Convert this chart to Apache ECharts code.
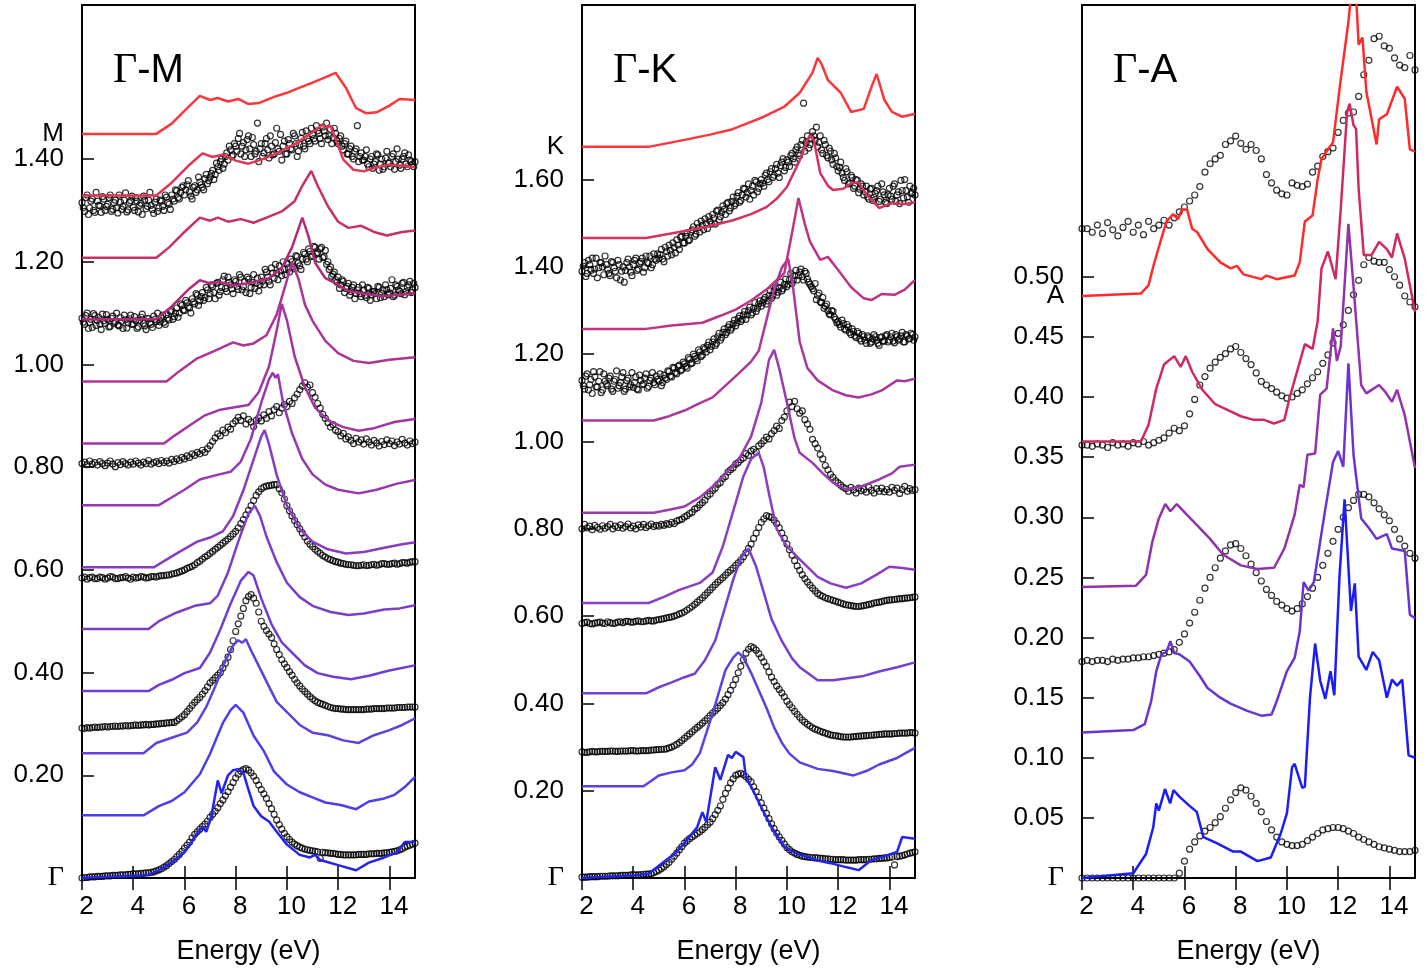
<!DOCTYPE html>
<html>
<head>
<meta charset="utf-8">
<title>Loss spectra along Γ-M, Γ-K, Γ-A</title>
<script src="https://cdn.jsdelivr.net/npm/echarts@6.0.0/dist/echarts.min.js"></script>
<style>
  html, body { margin: 0; padding: 0; background: #fff; }
  #main { width: 1428px; height: 974px; }
</style>
</head>
<body>
<div id="main"></div>
<script>
// ---------- sampling grids for the measured points (eV) ----------
var energy02 = [2, 2.2, 2.4, 2.6, 2.8, 3, 3.2, 3.4, 3.6, 3.8,
  4, 4.2, 4.4, 4.6, 4.8, 5, 5.2, 5.4, 5.6, 5.8,
  6, 6.2, 6.4, 6.6, 6.8, 7, 7.2, 7.4, 7.6, 7.8,
  8, 8.2, 8.4, 8.6, 8.8, 9, 9.2, 9.4, 9.6, 9.8,
  10, 10.2, 10.4, 10.6, 10.8, 11, 11.2, 11.4, 11.6, 11.8,
  12, 12.2, 12.4, 12.6, 12.8, 13, 13.2, 13.4, 13.6, 13.8,
  14, 14.2, 14.4, 14.6, 14.8, 15];

var energy01 = [2, 2.1, 2.2, 2.3, 2.4, 2.5, 2.6, 2.7, 2.8, 2.9,
  3, 3.1, 3.2, 3.3, 3.4, 3.5, 3.6, 3.7, 3.8, 3.9,
  4, 4.1, 4.2, 4.3, 4.4, 4.5, 4.6, 4.7, 4.8, 4.9,
  5, 5.1, 5.2, 5.3, 5.4, 5.5, 5.6, 5.7, 5.8, 5.9,
  6, 6.1, 6.2, 6.3, 6.4, 6.5, 6.6, 6.7, 6.8, 6.9,
  7, 7.1, 7.2, 7.3, 7.4, 7.5, 7.6, 7.7, 7.8, 7.9,
  8, 8.1, 8.2, 8.3, 8.4, 8.5, 8.6, 8.7, 8.8, 8.9,
  9, 9.1, 9.2, 9.3, 9.4, 9.5, 9.6, 9.7, 9.8, 9.9,
  10, 10.1, 10.2, 10.3, 10.4, 10.5, 10.6, 10.7, 10.8, 10.9,
  11, 11.1, 11.2, 11.3, 11.4, 11.5, 11.6, 11.7, 11.8, 11.9,
  12, 12.1, 12.2, 12.3, 12.4, 12.5, 12.6, 12.7, 12.8, 12.9,
  13, 13.1, 13.2, 13.3, 13.4, 13.5, 13.6, 13.7, 13.8, 13.9,
  14, 14.1, 14.2, 14.3, 14.4, 14.5, 14.6, 14.7, 14.8, 14.9,
  15];

// in-between energies of the noisy scans
var energy01h = [2.05, 2.15, 2.25, 2.35, 2.45, 2.55, 2.65, 2.75, 2.85, 2.95,
  3.05, 3.15, 3.25, 3.35, 3.45, 3.55, 3.65, 3.75, 3.85, 3.95,
  4.05, 4.15, 4.25, 4.35, 4.45, 4.55, 4.65, 4.75, 4.85, 4.95,
  5.05, 5.15, 5.25, 5.35, 5.45, 5.55, 5.65, 5.75, 5.85, 5.95,
  6.05, 6.15, 6.25, 6.35, 6.45, 6.55, 6.65, 6.75, 6.85, 6.95,
  7.05, 7.15, 7.25, 7.35, 7.45, 7.55, 7.65, 7.75, 7.85, 7.95,
  8.05, 8.15, 8.25, 8.35, 8.45, 8.55, 8.65, 8.75, 8.85, 8.95,
  9.05, 9.15, 9.25, 9.35, 9.45, 9.55, 9.65, 9.75, 9.85, 9.95,
  10.05, 10.15, 10.25, 10.35, 10.45, 10.55, 10.65, 10.75, 10.85, 10.95,
  11.05, 11.15, 11.25, 11.35, 11.45, 11.55, 11.65, 11.75, 11.85, 11.95,
  12.05, 12.15, 12.25, 12.35, 12.45, 12.55, 12.65, 12.75, 12.85, 12.95,
  13.05, 13.15, 13.25, 13.35, 13.45, 13.55, 13.65, 13.75, 13.85, 13.95,
  14.05, 14.15, 14.25, 14.35, 14.45, 14.55, 14.65, 14.75, 14.85, 14.95];

var xTicks = [2, 4, 6, 8, 10, 12, 14];

// ---------- Γ-M ----------
var gmOffsets = [0, 0.122, 0.243, 0.364, 0.485, 0.605, 0.726, 0.846, 0.967, 1.088, 1.208, 1.329, 1.449];
var gmColors = ['#2424f0', '#4c3ef0', '#6140dc', '#6e3fd2', '#7b3ec8', '#883cbe', '#9638b2',
  '#a235a4', '#ad3396', '#b32a78', '#c83068', '#e03656', '#f8383c'];
var gmTheory = [
  [[2,0],[3,0.002],[4,0.004],[4.6,0.006],[5,0.015],[5.5,0.03],[6,0.05],[6.4,0.08],[6.7,0.1],[6.85,0.09],[7.05,0.12],[7.3,0.19],[7.45,0.165],[7.7,0.2],[7.9,0.21],[8.1,0.212],[8.3,0.205],[8.45,0.18],[8.7,0.14],[9,0.12],[9.3,0.11],[9.6,0.09],[10,0.065],[10.5,0.045],[10.9,0.04],[11.1,0.045],[11.3,0.035],[12,0.025],[12.7,0.015],[13.2,0.03],[13.8,0.04],[14.3,0.05],[14.6,0.07],[15,0.07]],
  [[2,0],[4.4,0],[5,0.018],[5.5,0.028],[6,0.045],[6.6,0.08],[7,0.12],[7.25,0.15],[7.5,0.18],[7.8,0.205],[8,0.215],[8.3,0.2],[8.7,0.155],[9.1,0.125],[9.5,0.085],[10,0.06],[10.5,0.045],[11,0.035],[11.5,0.025],[12.1,0.02],[12.7,0.012],[13.2,0.027],[13.8,0.033],[14.2,0.04],[14.6,0.055],[15,0.075]],
  [[2,0],[4.4,0],[4.9,0.02],[5.5,0.03],[6.1,0.04],[6.5,0.06],[6.85,0.09],[7.2,0.13],[7.6,0.18],[7.9,0.21],[8.1,0.22],[8.25,0.215],[8.4,0.222],[8.6,0.2],[8.9,0.17],[9.2,0.14],[9.6,0.1],[10,0.08],[10.5,0.055],[11,0.04],[11.6,0.035],[12.2,0.025],[12.8,0.02],[13.4,0.035],[14,0.045],[14.5,0.055],[15,0.068]],
  [[2,0],[4.6,0],[5,0.012],[5.5,0.022],[6,0.035],[6.6,0.045],[7,0.075],[7.4,0.12],[7.8,0.17],[8.2,0.215],[8.5,0.232],[8.7,0.225],[9,0.18],[9.4,0.13],[9.8,0.095],[10.2,0.075],[10.7,0.05],[11.2,0.035],[11.8,0.028],[12.5,0.023],[13.2,0.03],[14,0.04],[15,0.05]],
  [[2,0],[4.6,0],[5,0.015],[5.6,0.03],[6.4,0.045],[7,0.05],[7.3,0.065],[7.7,0.11],[8.1,0.17],[8.5,0.225],[8.75,0.24],[8.95,0.22],[9.2,0.18],[9.6,0.13],[10,0.09],[10.5,0.062],[11,0.045],[11.7,0.033],[12.4,0.027],[13,0.03],[13.8,0.038],[14.4,0.04],[15,0.046]],
  [[2,0],[4.8,0],[5.2,0.012],[5.8,0.03],[6.5,0.05],[7,0.058],[7.5,0.07],[7.9,0.1],[8.3,0.15],[8.7,0.21],[9,0.255],[9.13,0.267],[9.3,0.24],[9.6,0.18],[10,0.12],[10.5,0.075],[11,0.05],[11.6,0.035],[12.3,0.027],[13,0.03],[13.8,0.038],[14.5,0.045],[15,0.049]],
  [[2,0],[5,0],[5.4,0.012],[6,0.03],[6.6,0.05],[7.2,0.058],[7.8,0.065],[8.2,0.085],[8.6,0.13],[9,0.2],[9.3,0.245],[9.45,0.258],[9.55,0.248],[9.65,0.255],[9.85,0.2],[10.2,0.14],[10.6,0.09],[11,0.06],[11.5,0.04],[12,0.03],[12.8,0.023],[13.5,0.03],[14.3,0.042],[15,0.049]],
  [[2,0],[5.2,0],[5.6,0.015],[6.2,0.035],[6.8,0.055],[7.4,0.066],[7.9,0.07],[8.5,0.075],[8.9,0.1],[9.3,0.15],[9.6,0.22],[9.8,0.272],[10,0.24],[10.3,0.17],[10.7,0.11],[11.1,0.07],[11.6,0.045],[12.2,0.032],[12.8,0.025],[13.4,0.03],[14.2,0.042],[15,0.048]],
  [[2,0],[5.3,0],[5.8,0.02],[6.5,0.045],[7.2,0.06],[7.9,0.076],[8.3,0.07],[8.7,0.074],[9.2,0.09],[9.6,0.13],[9.9,0.18],[10.2,0.232],[10.45,0.2],[10.7,0.15],[11,0.118],[11.5,0.079],[12,0.055],[12.6,0.04],[13.2,0.036],[14,0.042],[15,0.047]],
  [[2,0],[4.9,0],[5.5,0.025],[6.2,0.06],[6.6,0.076],[7,0.07],[7.4,0.072],[7.9,0.066],[8.5,0.07],[9.3,0.08],[9.8,0.1],[10.2,0.14],[10.6,0.198],[10.85,0.16],[11.1,0.11],[11.5,0.08],[11.9,0.07],[12.4,0.055],[13,0.05],[13.7,0.045],[14.4,0.048],[15,0.05]],
  [[2,0],[4.9,0],[5.4,0.02],[6,0.05],[6.6,0.078],[7,0.072],[7.3,0.078],[7.7,0.07],[8.2,0.075],[8.7,0.068],[9.3,0.08],[9.8,0.09],[10.3,0.11],[10.6,0.14],[10.95,0.169],[11.2,0.14],[11.6,0.1],[12,0.07],[12.4,0.058],[12.9,0.062],[13.4,0.05],[13.9,0.043],[14.5,0.05],[15,0.053]],
  [[2,0],[4.9,0],[5.5,0.025],[6.2,0.06],[6.7,0.082],[7.1,0.075],[7.5,0.08],[8,0.068],[8.5,0.062],[9,0.07],[9.6,0.082],[10.3,0.1],[10.9,0.12],[11.4,0.138],[11.55,0.132],[11.7,0.136],[11.9,0.11],[12.2,0.07],[12.6,0.05],[13,0.047],[13.5,0.055],[14,0.06],[14.5,0.058],[15,0.055]],
  [[2,0],[4.9,0],[5.5,0.02],[6,0.045],[6.6,0.074],[7,0.066],[7.3,0.07],[7.7,0.063],[8.1,0.068],[8.5,0.058],[8.9,0.06],[9.5,0.072],[10,0.08],[10.5,0.09],[11,0.1],[11.4,0.108],[11.9,0.119],[12.3,0.09],[12.7,0.05],[13.1,0.04],[13.5,0.042],[14,0.055],[14.4,0.068],[15,0.066]]
];
var gmExp0 = [0, 0.001, 0.001, 0.002, 0.002, 0.002, 0.003, 0.003, 0.003, 0.004,
  0.004, 0.004, 0.005, 0.005, 0.005, 0.006, 0.006, 0.006, 0.007, 0.007,
  0.008, 0.008, 0.008, 0.009, 0.009, 0.01, 0.01, 0.011, 0.012, 0.014,
  0.016, 0.018, 0.021, 0.024, 0.028, 0.032, 0.036, 0.041, 0.046, 0.052,
  0.058, 0.064, 0.07, 0.078, 0.085, 0.09, 0.095, 0.1, 0.105, 0.111,
  0.118, 0.124, 0.13, 0.137, 0.145, 0.152, 0.16, 0.168, 0.177, 0.186,
  0.195, 0.202, 0.208, 0.211, 0.213, 0.21, 0.205, 0.198, 0.19, 0.181,
  0.172, 0.164, 0.155, 0.145, 0.135, 0.124, 0.113, 0.104, 0.095, 0.087,
  0.08, 0.075, 0.07, 0.066, 0.063, 0.06, 0.058, 0.056, 0.055, 0.054,
  0.053, 0.052, 0.051, 0.038, 0.05, 0.049, 0.049, 0.048, 0.048, 0.047,
  0.046, 0.046, 0.045, 0.045, 0.045, 0.045, 0.045, 0.045, 0.046, 0.046,
  0.046, 0.046, 0.047, 0.047, 0.047, 0.048, 0.048, 0.048, 0.049, 0.049,
  0.05, 0.051, 0.052, 0.053, 0.055, 0.057, 0.06, 0.062, 0.064, 0.066,
  0.068];
var gmExp1 = [0.292, 0.291, 0.293, 0.292, 0.293, 0.294, 0.293, 0.294, 0.294, 0.295,
  0.294, 0.295, 0.295, 0.296, 0.295, 0.296, 0.296, 0.297, 0.296, 0.297,
  0.297, 0.298, 0.297, 0.298, 0.298, 0.299, 0.298, 0.299, 0.299, 0.3,
  0.3, 0.301, 0.301, 0.302, 0.302, 0.303, 0.303, 0.306, 0.31, 0.314,
  0.318, 0.324, 0.33, 0.336, 0.342, 0.347, 0.352, 0.358, 0.365, 0.372,
  0.38, 0.385, 0.39, 0.395, 0.4, 0.409, 0.418, 0.43, 0.445, 0.462,
  0.48, 0.495, 0.51, 0.525, 0.54, 0.548, 0.552, 0.545, 0.535, 0.518,
  0.5, 0.49, 0.482, 0.475, 0.468, 0.456, 0.445, 0.435, 0.425, 0.417,
  0.41, 0.402, 0.395, 0.387, 0.38, 0.374, 0.368, 0.363, 0.358, 0.353,
  0.349, 0.345, 0.342, 0.34, 0.338, 0.336, 0.334, 0.332, 0.331, 0.33,
  0.33, 0.329, 0.329, 0.328, 0.328, 0.328, 0.328, 0.328, 0.328, 0.328,
  0.328, 0.329, 0.329, 0.329, 0.33, 0.33, 0.33, 0.33, 0.33, 0.331,
  0.331, 0.331, 0.331, 0.332, 0.332, 0.332, 0.332, 0.333, 0.333, 0.333,
  0.333];
var gmExp2 = [0.584, 0.586, 0.582, 0.585, 0.586, 0.583, 0.583, 0.586, 0.585, 0.582,
  0.584, 0.587, 0.586, 0.583, 0.583, 0.585, 0.585, 0.587, 0.584, 0.582,
  0.586, 0.584, 0.585, 0.587, 0.586, 0.584, 0.585, 0.587, 0.587, 0.586,
  0.588, 0.589, 0.589, 0.59, 0.59, 0.592, 0.593, 0.594, 0.596, 0.598,
  0.6, 0.603, 0.605, 0.607, 0.61, 0.614, 0.617, 0.621, 0.625, 0.628,
  0.632, 0.636, 0.64, 0.644, 0.648, 0.652, 0.656, 0.66, 0.665, 0.67,
  0.675, 0.682, 0.69, 0.698, 0.707, 0.716, 0.725, 0.735, 0.745, 0.752,
  0.758, 0.761, 0.763, 0.764, 0.765, 0.766, 0.766, 0.758, 0.75, 0.738,
  0.725, 0.715, 0.705, 0.696, 0.688, 0.68, 0.672, 0.664, 0.656, 0.65,
  0.645, 0.64, 0.636, 0.632, 0.628, 0.625, 0.622, 0.62, 0.618, 0.616,
  0.615, 0.613, 0.612, 0.611, 0.61, 0.61, 0.609, 0.608, 0.608, 0.609,
  0.61, 0.608, 0.609, 0.61, 0.611, 0.609, 0.61, 0.612, 0.612, 0.611,
  0.611, 0.612, 0.613, 0.611, 0.612, 0.614, 0.614, 0.613, 0.615, 0.616,
  0.616];
var gmExp3 = [0.807, 0.81, 0.805, 0.812, 0.806, 0.809, 0.804, 0.811, 0.807, 0.803,
  0.808, 0.812, 0.806, 0.801, 0.809, 0.805, 0.811, 0.807, 0.804, 0.81,
  0.806, 0.812, 0.808, 0.804, 0.81, 0.807, 0.813, 0.806, 0.809, 0.811,
  0.807, 0.813, 0.809, 0.812, 0.808, 0.815, 0.811, 0.816, 0.813, 0.819,
  0.816, 0.822, 0.819, 0.826, 0.823, 0.829, 0.826, 0.833, 0.829, 0.836,
  0.842, 0.85, 0.857, 0.865, 0.861, 0.872, 0.867, 0.878, 0.874, 0.885,
  0.89, 0.897, 0.891, 0.9, 0.884, 0.893, 0.888, 0.879, 0.891, 0.896,
  0.89, 0.902, 0.895, 0.908, 0.9, 0.912, 0.918, 0.906, 0.915, 0.922,
  0.918, 0.928, 0.924, 0.935, 0.942, 0.951, 0.958, 0.964, 0.956, 0.96,
  0.945, 0.936, 0.924, 0.915, 0.903, 0.895, 0.887, 0.878, 0.883, 0.872,
  0.869, 0.861, 0.866, 0.855, 0.859, 0.852, 0.846, 0.856, 0.849, 0.853,
  0.845, 0.855, 0.849, 0.843, 0.852, 0.847, 0.841, 0.85, 0.844, 0.853,
  0.846, 0.851, 0.842, 0.849, 0.845, 0.854, 0.847, 0.843, 0.851, 0.846,
  0.849];
var gmExp4 = [1.09, 1.078, 1.1, 1.082, 1.072, 1.095, 1.086, 1.079, 1.098, 1.08,
  1.088, 1.074, 1.094, 1.083, 1.077, 1.091, 1.07, 1.087, 1.081, 1.096,
  1.079, 1.085, 1.073, 1.092, 1.08, 1.068, 1.089, 1.078, 1.094, 1.083,
  1.076, 1.09, 1.082, 1.097, 1.087, 1.105, 1.093, 1.11, 1.1, 1.115,
  1.105, 1.12, 1.11, 1.128, 1.118, 1.135, 1.124, 1.14, 1.13, 1.145,
  1.138, 1.152, 1.128, 1.16, 1.142, 1.165, 1.148, 1.17, 1.155, 1.138,
  1.162, 1.146, 1.17, 1.152, 1.14, 1.166, 1.15, 1.175, 1.158, 1.143,
  1.17, 1.155, 1.18, 1.162, 1.188, 1.168, 1.178, 1.192, 1.173, 1.185,
  1.196, 1.18, 1.2, 1.186, 1.21, 1.192, 1.205, 1.215, 1.2, 1.22,
  1.212, 1.228, 1.218, 1.225, 1.208, 1.222, 1.2, 1.19, 1.176, 1.165,
  1.17, 1.155, 1.162, 1.148, 1.158, 1.142, 1.155, 1.138, 1.15, 1.132,
  1.145, 1.13, 1.148, 1.136, 1.142, 1.128, 1.15, 1.138, 1.132, 1.146,
  1.14, 1.165, 1.135, 1.152, 1.143, 1.158, 1.136, 1.15, 1.162, 1.145,
  1.15];
var gmExp4h = [1.082, 1.095, 1.07, 1.088, 1.099, 1.076, 1.092, 1.068, 1.085, 1.097,
  1.073, 1.09, 1.08, 1.1, 1.075, 1.084, 1.096, 1.071, 1.089, 1.078,
  1.093, 1.07, 1.086, 1.098, 1.075, 1.09, 1.081, 1.072, 1.088, 1.1,
  1.083, 1.096, 1.078, 1.09, 1.103, 1.088, 1.1, 1.092, 1.118, 1.106,
  1.125, 1.112, 1.1, 1.122, 1.138, 1.115, 1.132, 1.125, 1.15, 1.128,
  1.155, 1.14, 1.158, 1.135, 1.15, 1.172, 1.142, 1.16, 1.147, 1.165,
  1.152, 1.175, 1.145, 1.162, 1.17, 1.138, 1.16, 1.148, 1.168, 1.155,
  1.162, 1.185, 1.17, 1.155, 1.178, 1.195, 1.165, 1.182, 1.2, 1.175,
  1.188, 1.205, 1.19, 1.212, 1.198, 1.185, 1.218, 1.205, 1.225, 1.21,
  1.23, 1.215, 1.205, 1.228, 1.21, 1.195, 1.185, 1.172, 1.18, 1.16,
  1.148, 1.165, 1.14, 1.152, 1.135, 1.15, 1.128, 1.145, 1.138, 1.155,
  1.135, 1.15, 1.125, 1.142, 1.138, 1.152, 1.13, 1.145, 1.155, 1.136,
  1.148, 1.132, 1.155, 1.145, 1.138, 1.16, 1.142, 1.155, 1.14, 1.158];
var gmExp5 = [1.315, 1.298, 1.33, 1.305, 1.322, 1.296, 1.318, 1.309, 1.327, 1.3,
  1.312, 1.33, 1.302, 1.32, 1.295, 1.316, 1.308, 1.334, 1.301, 1.319,
  1.306, 1.325, 1.297, 1.314, 1.328, 1.303, 1.32, 1.31, 1.294, 1.322,
  1.305, 1.318, 1.3, 1.326, 1.312, 1.33, 1.318, 1.338, 1.322, 1.345,
  1.33, 1.35, 1.336, 1.322, 1.348, 1.34, 1.355, 1.345, 1.362, 1.352,
  1.365, 1.378, 1.37, 1.385, 1.395, 1.382, 1.405, 1.398, 1.418, 1.408,
  1.425, 1.44, 1.41, 1.432, 1.418, 1.445, 1.405, 1.428, 1.415, 1.395,
  1.43, 1.412, 1.44, 1.402, 1.425, 1.41, 1.46, 1.415, 1.398, 1.435,
  1.41, 1.43, 1.418, 1.445, 1.405, 1.428, 1.452, 1.42, 1.44, 1.43,
  1.448, 1.435, 1.455, 1.44, 1.462, 1.445, 1.438, 1.458, 1.442, 1.45,
  1.43, 1.445, 1.418, 1.435, 1.41, 1.425, 1.4, 1.42, 1.395, 1.412,
  1.398, 1.418, 1.385, 1.405, 1.39, 1.41, 1.378, 1.4, 1.385, 1.415,
  1.392, 1.405, 1.38, 1.42, 1.388, 1.4, 1.412, 1.385, 1.398, 1.39,
  1.395];
var gmExp5h = [1.305, 1.325, 1.292, 1.318, 1.3, 1.335, 1.31, 1.296, 1.322, 1.308,
  1.325, 1.298, 1.315, 1.305, 1.33, 1.302, 1.32, 1.297, 1.315, 1.328,
  1.3, 1.318, 1.31, 1.292, 1.32, 1.308, 1.335, 1.302, 1.316, 1.298,
  1.32, 1.308, 1.33, 1.315, 1.302, 1.322, 1.34, 1.325, 1.335, 1.348,
  1.34, 1.358, 1.328, 1.345, 1.335, 1.365, 1.35, 1.34, 1.37, 1.358,
  1.372, 1.36, 1.392, 1.378, 1.4, 1.39, 1.412, 1.425, 1.405, 1.43,
  1.415, 1.45, 1.425, 1.405, 1.438, 1.42, 1.442, 1.41, 1.47, 1.42,
  1.405, 1.43, 1.418, 1.445, 1.408, 1.432, 1.42, 1.448, 1.425, 1.41,
  1.438, 1.42, 1.45, 1.43, 1.415, 1.44, 1.425, 1.455, 1.435, 1.46,
  1.44, 1.465, 1.45, 1.43, 1.455, 1.47, 1.445, 1.43, 1.46, 1.435,
  1.44, 1.425, 1.43, 1.41, 1.42, 1.405, 1.415, 1.465, 1.405, 1.398,
  1.405, 1.39, 1.4, 1.382, 1.395, 1.408, 1.39, 1.38, 1.402, 1.392,
  1.385, 1.41, 1.395, 1.4, 1.382, 1.405, 1.39, 1.408, 1.395, 1.385];

// ---------- Γ-K ----------
var gkOffsets = [0, 0.21, 0.423, 0.63, 0.837, 1.048, 1.258, 1.466, 1.675];
var gkColors = ['#2424f0', '#5c40e0', '#7440d2', '#8a3ec4', '#9a3bb0', '#aa389a', '#bc3482', '#d63260', '#f8383c'];
var gkTheory = [
  [[2,0],[3,0.003],[4,0.006],[4.6,0.01],[5.2,0.037],[5.6,0.055],[6,0.08],[6.5,0.117],[6.7,0.151],[6.85,0.128],[7.05,0.2],[7.2,0.254],[7.4,0.225],[7.7,0.282],[7.85,0.275],[8,0.289],[8.3,0.277],[8.4,0.231],[8.6,0.21],[8.8,0.186],[9.1,0.15],[9.4,0.117],[9.9,0.071],[10.4,0.055],[10.8,0.048],[11.2,0.04],[11.7,0.034],[12.3,0.025],[12.8,0.018],[13.3,0.041],[13.8,0.05],[14.3,0.06],[14.5,0.094],[15,0.09]],
  [[2,0],[4.4,0],[5,0.025],[5.5,0.032],[6,0.037],[6.3,0.05],[6.6,0.076],[7.1,0.167],[7.6,0.266],[7.9,0.295],[8.1,0.307],[8.3,0.295],[8.6,0.26],[8.9,0.22],[9.2,0.18],[9.5,0.135],[9.8,0.1],[10.1,0.075],[10.5,0.055],[11.2,0.04],[11.8,0.035],[12.6,0.025],[13.1,0.035],[13.6,0.05],[14.3,0.065],[15,0.088]],
  [[2,0],[4.5,0],[5,0.014],[5.5,0.025],[6,0.037],[6.4,0.045],[6.8,0.076],[7.2,0.121],[7.6,0.2],[7.9,0.26],[8.2,0.31],[8.5,0.332],[8.8,0.29],[9.1,0.23],[9.4,0.17],[9.8,0.12],[10.2,0.08],[10.5,0.06],[11.2,0.03],[11.8,0.03],[12.3,0.034],[13,0.04],[13.6,0.05],[14.3,0.06],[15,0.071]],
  [[2,0],[4.6,0],[5.2,0.014],[5.8,0.03],[6.6,0.046],[7.1,0.07],[7.5,0.13],[7.8,0.19],[8.3,0.29],[8.6,0.33],[8.9,0.344],[9.1,0.31],[9.3,0.25],[9.6,0.17],[10,0.13],[10.5,0.1],[11.2,0.06],[11.7,0.045],[12.3,0.035],[12.9,0.045],[13.5,0.065],[14,0.083],[14.5,0.08],[15,0.076]],
  [[2,0],[4.8,0],[5.5,0.008],[6,0.014],[6.6,0.035],[7.1,0.06],[7.6,0.09],[8.1,0.12],[8.6,0.174],[9,0.252],[9.3,0.35],[9.5,0.373],[9.7,0.33],[10,0.252],[10.3,0.17],[10.5,0.137],[11,0.114],[11.4,0.09],[11.8,0.069],[12.3,0.053],[12.9,0.06],[13.6,0.076],[14.1,0.09],[14.4,0.105],[15,0.11]],
  [[2,0],[4.8,0],[5.4,0.01],[6,0.023],[6.6,0.04],[7.1,0.053],[7.6,0.08],[8.1,0.107],[8.6,0.135],[8.9,0.16],[9.2,0.23],[9.5,0.3],[9.8,0.35],[10.05,0.371],[10.25,0.3],[10.5,0.18],[10.8,0.12],[11.2,0.092],[11.8,0.069],[12.3,0.058],[12.8,0.053],[13.3,0.06],[13.7,0.069],[14.3,0.092],[14.6,0.09],[15,0.096]],
  [[2,0],[4.5,0],[5.5,0.008],[6.7,0.014],[7.4,0.03],[8,0.044],[8.6,0.065],[9.2,0.09],[9.9,0.128],[10.2,0.22],[10.45,0.3],[10.7,0.24],[10.9,0.2],[11.3,0.158],[11.6,0.165],[12,0.135],[12.5,0.096],[13,0.07],[13.3,0.066],[13.7,0.08],[14.2,0.078],[14.6,0.09],[15,0.112]],
  [[2,0],[4.5,0],[5.8,0.014],[6.8,0.025],[7.9,0.041],[8.6,0.055],[9.2,0.071],[9.6,0.09],[10,0.117],[10.5,0.178],[10.8,0.225],[10.9,0.236],[11.05,0.225],[11.3,0.149],[11.6,0.12],[11.8,0.11],[12.2,0.113],[12.5,0.125],[12.8,0.128],[13.1,0.1],[13.6,0.069],[14.1,0.08],[14.6,0.078],[15,0.082]],
  [[2,0],[4.6,0],[6,0.016],[7,0.028],[7.8,0.039],[8.5,0.055],[9.1,0.069],[9.9,0.092],[10.5,0.124],[11,0.17],[11.2,0.204],[11.35,0.19],[11.6,0.153],[12.1,0.124],[12.5,0.08],[13,0.087],[13.3,0.137],[13.5,0.167],[13.8,0.108],[14.1,0.08],[14.5,0.069],[15,0.076]]
];
var gkExp0 = [0.002, 0.002, 0.002, 0.003, 0.003, 0.003, 0.003, 0.004, 0.004, 0.004,
  0.004, 0.005, 0.005, 0.005, 0.005, 0.006, 0.006, 0.006, 0.006, 0.007,
  0.007, 0.007, 0.007, 0.008, 0.008, 0.009, 0.009, 0.01, 0.012, 0.015,
  0.018, 0.022, 0.026, 0.031, 0.036, 0.043, 0.05, 0.057, 0.065, 0.072,
  0.08, 0.085, 0.09, 0.094, 0.098, 0.102, 0.106, 0.111, 0.116, 0.122,
  0.128, 0.136, 0.145, 0.155, 0.165, 0.18, 0.194, 0.206, 0.218, 0.227,
  0.235, 0.238, 0.24, 0.237, 0.232, 0.226, 0.22, 0.209, 0.198, 0.185,
  0.172, 0.16, 0.148, 0.136, 0.124, 0.113, 0.103, 0.094, 0.086, 0.078,
  0.07, 0.065, 0.06, 0.057, 0.054, 0.052, 0.05, 0.049, 0.048, 0.047,
  0.047, 0.046, 0.046, 0.045, 0.045, 0.044, 0.044, 0.043, 0.043, 0.042,
  0.042, 0.042, 0.042, 0.041, 0.041, 0.041, 0.041, 0.041, 0.042, 0.042,
  0.042, 0.042, 0.043, 0.043, 0.044, 0.044, 0.045, 0.045, 0.046, 0.046,
  0.047, 0.048, 0.03, 0.049, 0.05, 0.051, 0.053, 0.055, 0.057, 0.058,
  0.06];
var gkExp1 = [0.289, 0.288, 0.288, 0.289, 0.29, 0.289, 0.289, 0.29, 0.29, 0.29,
  0.29, 0.291, 0.291, 0.29, 0.29, 0.291, 0.291, 0.291, 0.291, 0.292,
  0.292, 0.291, 0.291, 0.292, 0.292, 0.292, 0.292, 0.293, 0.293, 0.294,
  0.294, 0.295, 0.295, 0.296, 0.298, 0.3, 0.303, 0.306, 0.31, 0.315,
  0.32, 0.325, 0.33, 0.335, 0.34, 0.345, 0.35, 0.355, 0.36, 0.366,
  0.372, 0.378, 0.383, 0.389, 0.395, 0.402, 0.41, 0.42, 0.43, 0.442,
  0.455, 0.47, 0.485, 0.5, 0.515, 0.524, 0.53, 0.527, 0.522, 0.514,
  0.505, 0.495, 0.485, 0.472, 0.46, 0.45, 0.44, 0.432, 0.424, 0.415,
  0.405, 0.397, 0.39, 0.382, 0.375, 0.368, 0.362, 0.357, 0.352, 0.348,
  0.344, 0.341, 0.339, 0.336, 0.334, 0.332, 0.33, 0.328, 0.327, 0.326,
  0.325, 0.324, 0.323, 0.323, 0.323, 0.323, 0.324, 0.324, 0.325, 0.325,
  0.326, 0.326, 0.327, 0.327, 0.328, 0.328, 0.329, 0.329, 0.33, 0.33,
  0.33, 0.33, 0.331, 0.331, 0.332, 0.332, 0.332, 0.332, 0.333, 0.333,
  0.332];
var gkExp2 = [0.583, 0.585, 0.586, 0.583, 0.582, 0.584, 0.585, 0.586, 0.584, 0.583,
  0.587, 0.585, 0.583, 0.584, 0.586, 0.587, 0.585, 0.588, 0.588, 0.586,
  0.586, 0.588, 0.589, 0.587, 0.587, 0.589, 0.59, 0.589, 0.589, 0.591,
  0.592, 0.593, 0.594, 0.596, 0.597, 0.598, 0.6, 0.602, 0.605, 0.607,
  0.61, 0.614, 0.618, 0.622, 0.627, 0.632, 0.637, 0.642, 0.648, 0.654,
  0.66, 0.666, 0.672, 0.678, 0.683, 0.688, 0.694, 0.7, 0.705, 0.71,
  0.716, 0.722, 0.728, 0.736, 0.745, 0.755, 0.765, 0.778, 0.79, 0.803,
  0.815, 0.823, 0.83, 0.828, 0.826, 0.82, 0.812, 0.802, 0.79, 0.778,
  0.765, 0.752, 0.74, 0.727, 0.715, 0.705, 0.695, 0.686, 0.678, 0.671,
  0.664, 0.658, 0.652, 0.648, 0.645, 0.642, 0.64, 0.638, 0.636, 0.634,
  0.632, 0.63, 0.628, 0.626, 0.625, 0.624, 0.623, 0.622, 0.622, 0.623,
  0.624, 0.625, 0.627, 0.628, 0.63, 0.631, 0.632, 0.633, 0.635, 0.636,
  0.637, 0.637, 0.638, 0.639, 0.64, 0.64, 0.641, 0.641, 0.642, 0.643,
  0.644];
var gkExp3 = [0.8, 0.81, 0.802, 0.806, 0.798, 0.808, 0.803, 0.799, 0.807, 0.801,
  0.805, 0.81, 0.8, 0.806, 0.803, 0.809, 0.801, 0.805, 0.811, 0.802,
  0.806, 0.8, 0.809, 0.804, 0.81, 0.803, 0.807, 0.811, 0.805, 0.808,
  0.806, 0.81, 0.808, 0.812, 0.81, 0.815, 0.812, 0.818, 0.82, 0.822,
  0.827, 0.83, 0.835, 0.838, 0.845, 0.848, 0.855, 0.86, 0.866, 0.875,
  0.88, 0.888, 0.893, 0.902, 0.906, 0.915, 0.92, 0.93, 0.935, 0.94,
  0.948, 0.952, 0.958, 0.962, 0.972, 0.968, 0.978, 0.982, 0.976, 0.99,
  0.995, 1.002, 1.01, 1.006, 1.018, 1.025, 1.035, 1.03, 1.048, 1.056,
  1.07, 1.09, 1.08, 1.092, 1.075, 1.065, 1.07, 1.05, 1.04, 1.028,
  1.005, 0.995, 0.985, 0.97, 0.96, 0.945, 0.935, 0.925, 0.918, 0.91,
  0.905, 0.9, 0.895, 0.892, 0.886, 0.895, 0.889, 0.882, 0.893, 0.887,
  0.89, 0.884, 0.895, 0.888, 0.882, 0.892, 0.886, 0.893, 0.885, 0.89,
  0.884, 0.895, 0.888, 0.893, 0.881, 0.89, 0.897, 0.886, 0.892, 0.888,
  0.89];
var gkExp4 = [1.14, 1.12, 1.155, 1.13, 1.11, 1.148, 1.125, 1.16, 1.118, 1.138,
  1.128, 1.15, 1.115, 1.142, 1.122, 1.135, 1.158, 1.12, 1.145, 1.13,
  1.124, 1.148, 1.118, 1.14, 1.132, 1.155, 1.126, 1.145, 1.135, 1.15,
  1.138, 1.128, 1.152, 1.142, 1.16, 1.148, 1.168, 1.155, 1.175, 1.165,
  1.178, 1.168, 1.188, 1.18, 1.195, 1.185, 1.205, 1.198, 1.212, 1.22,
  1.21, 1.228, 1.22, 1.24, 1.232, 1.25, 1.245, 1.262, 1.255, 1.27,
  1.265, 1.282, 1.275, 1.29, 1.28, 1.3, 1.29, 1.305, 1.298, 1.315,
  1.31, 1.325, 1.315, 1.335, 1.328, 1.345, 1.335, 1.352, 1.345, 1.36,
  1.355, 1.37, 1.362, 1.38, 1.37, 1.388, 1.378, 1.39, 1.372, 1.36,
  1.35, 1.362, 1.335, 1.32, 1.33, 1.31, 1.3, 1.29, 1.298, 1.28,
  1.275, 1.262, 1.27, 1.255, 1.262, 1.245, 1.252, 1.238, 1.248, 1.23,
  1.24, 1.225, 1.238, 1.228, 1.245, 1.232, 1.22, 1.24, 1.23, 1.245,
  1.232, 1.248, 1.226, 1.24, 1.235, 1.25, 1.228, 1.242, 1.236, 1.245,
  1.24];
var gkExp4h = [1.128, 1.15, 1.118, 1.142, 1.16, 1.125, 1.138, 1.112, 1.155, 1.132,
  1.145, 1.12, 1.138, 1.162, 1.128, 1.148, 1.115, 1.14, 1.125, 1.158,
  1.135, 1.12, 1.152, 1.13, 1.145, 1.122, 1.14, 1.158, 1.13, 1.142,
  1.155, 1.135, 1.145, 1.162, 1.15, 1.17, 1.158, 1.172, 1.162, 1.182,
  1.172, 1.192, 1.178, 1.2, 1.19, 1.21, 1.195, 1.215, 1.205, 1.228,
  1.218, 1.235, 1.225, 1.248, 1.238, 1.258, 1.25, 1.268, 1.26, 1.278,
  1.272, 1.288, 1.28, 1.298, 1.29, 1.308, 1.295, 1.318, 1.305, 1.322,
  1.318, 1.33, 1.322, 1.345, 1.335, 1.352, 1.342, 1.365, 1.35, 1.372,
  1.36, 1.385, 1.37, 1.392, 1.38, 1.395, 1.37, 1.385, 1.365, 1.355,
  1.345, 1.325, 1.34, 1.318, 1.305, 1.315, 1.292, 1.3, 1.285, 1.272,
  1.268, 1.278, 1.258, 1.268, 1.25, 1.258, 1.242, 1.252, 1.235, 1.245,
  1.232, 1.242, 1.225, 1.235, 1.24, 1.225, 1.238, 1.23, 1.242, 1.228,
  1.24, 1.23, 1.245, 1.232, 1.242, 1.228, 1.245, 1.235, 1.248, 1.232];
var gkExp5 = [1.39, 1.41, 1.385, 1.405, 1.42, 1.395, 1.375, 1.41, 1.4, 1.425,
  1.395, 1.38, 1.41, 1.39, 1.415, 1.37, 1.4, 1.392, 1.418, 1.388,
  1.405, 1.42, 1.395, 1.412, 1.388, 1.425, 1.408, 1.398, 1.43, 1.415,
  1.42, 1.44, 1.412, 1.435, 1.45, 1.428, 1.445, 1.462, 1.44, 1.47,
  1.455, 1.478, 1.462, 1.485, 1.47, 1.5, 1.48, 1.495, 1.51, 1.488,
  1.505, 1.52, 1.498, 1.53, 1.515, 1.54, 1.52, 1.548, 1.535, 1.56,
  1.545, 1.57, 1.552, 1.58, 1.56, 1.59, 1.575, 1.565, 1.595, 1.58,
  1.6, 1.585, 1.615, 1.595, 1.625, 1.61, 1.635, 1.605, 1.64, 1.62,
  1.645, 1.63, 1.66, 1.64, 1.675, 1.655, 1.69, 1.665, 1.7, 1.68,
  1.71, 1.69, 1.675, 1.7, 1.66, 1.68, 1.65, 1.665, 1.635, 1.65,
  1.62, 1.64, 1.605, 1.625, 1.59, 1.61, 1.58, 1.6, 1.57, 1.59,
  1.565, 1.585, 1.555, 1.58, 1.56, 1.575, 1.55, 1.59, 1.565, 1.545,
  1.58, 1.555, 1.59, 1.565, 1.545, 1.575, 1.6, 1.56, 1.585, 1.57,
  1.565];
var gkExp5h = [1.402, 1.378, 1.415, 1.392, 1.385, 1.42, 1.398, 1.41, 1.382, 1.405,
  1.385, 1.412, 1.398, 1.375, 1.405, 1.39, 1.365, 1.41, 1.4, 1.38,
  1.415, 1.392, 1.408, 1.42, 1.398, 1.41, 1.425, 1.405, 1.418, 1.43,
  1.428, 1.418, 1.445, 1.425, 1.438, 1.455, 1.432, 1.45, 1.468, 1.455,
  1.47, 1.46, 1.48, 1.492, 1.475, 1.49, 1.505, 1.485, 1.5, 1.515,
  1.498, 1.512, 1.528, 1.508, 1.525, 1.532, 1.545, 1.528, 1.55, 1.54,
  1.562, 1.548, 1.565, 1.578, 1.57, 1.555, 1.585, 1.598, 1.572, 1.59,
  1.592, 1.61, 1.6, 1.618, 1.605, 1.625, 1.615, 1.632, 1.648, 1.628,
  1.64, 1.655, 1.648, 1.668, 1.66, 1.68, 1.775, 1.685, 1.672, 1.695,
  1.7, 1.72, 1.685, 1.668, 1.69, 1.655, 1.672, 1.645, 1.66, 1.63,
  1.628, 1.615, 1.598, 1.618, 1.592, 1.605, 1.585, 1.598, 1.578, 1.585,
  1.572, 1.56, 1.578, 1.552, 1.568, 1.585, 1.555, 1.572, 1.548, 1.565,
  1.562, 1.585, 1.55, 1.572, 1.598, 1.558, 1.575, 1.548, 1.568, 1.58];

// ---------- Γ-A ----------
var gaOffsets = [0, 0.121, 0.242, 0.363, 0.484];
var gaColors = ['#1c1cf8', '#6a34d2', '#9432ac', '#d02a5c', '#ff2a2a'];
var gaTheory = [
  [[2,0],[4,0.004],[4.5,0.02],[4.78,0.042],[4.9,0.062],[5,0.056],[5.24,0.074],[5.44,0.062],[5.57,0.073],[5.83,0.067],[6.2,0.06],[6.48,0.055],[6.74,0.034],[7.26,0.029],[7.9,0.022],[8.2,0.022],[8.85,0.014],[9.37,0.017],[9.76,0.037],[10,0.054],[10.2,0.092],[10.3,0.095],[10.6,0.075],[10.7,0.076],[10.9,0.15],[11.1,0.195],[11.3,0.164],[11.5,0.149],[11.7,0.172],[11.85,0.152],[12.05,0.25],[12.25,0.315],[12.5,0.222],[12.65,0.245],[12.8,0.184],[13.1,0.173],[13.35,0.188],[13.6,0.181],[13.9,0.15],[14.1,0.165],[14.3,0.16],[14.5,0.165],[14.75,0.102],[15,0.1]],
  [[2,0],[4,0.002],[4.45,0.007],[4.7,0.026],[4.9,0.051],[5.1,0.065],[5.3,0.067],[5.45,0.076],[5.6,0.066],[5.8,0.065],[6.2,0.059],[6.6,0.047],[6.9,0.037],[7.4,0.029],[7.8,0.024],[8.45,0.018],[9,0.014],[9.4,0.015],[9.6,0.026],[10,0.051],[10.3,0.062],[10.5,0.084],[10.65,0.125],[10.85,0.118],[11.05,0.125],[11.3,0.159],[11.5,0.186],[11.8,0.225],[12,0.234],[12.2,0.221],[12.4,0.307],[12.6,0.231],[12.9,0.178],[13.2,0.17],[13.5,0.161],[13.9,0.165],[14.1,0.153],[14.6,0.151],[14.8,0.098],[15,0.095]],
  [[2,0],[4.1,0.001],[4.5,0.01],[4.75,0.038],[5,0.057],[5.25,0.069],[5.45,0.063],[5.7,0.069],[6.1,0.06],[6.6,0.049],[7,0.04],[7.5,0.027],[8.2,0.018],[8.85,0.015],[9.5,0.016],[9.9,0.032],[10.3,0.06],[10.5,0.085],[10.65,0.083],[10.8,0.11],[11.1,0.111],[11.3,0.16],[11.55,0.165],[11.8,0.215],[11.95,0.188],[12.1,0.2],[12.4,0.302],[12.6,0.25],[12.9,0.168],[13.1,0.161],[13.6,0.168],[13.85,0.162],[14.1,0.154],[14.3,0.164],[14.6,0.143],[15,0.099]],
  [[2,0],[4.3,0],[4.6,0.014],[4.9,0.044],[5.2,0.064],[5.6,0.071],[5.85,0.062],[6.05,0.071],[6.3,0.058],[6.7,0.043],[7.2,0.031],[7.8,0.025],[8.2,0.021],[8.7,0.018],[9.1,0.018],[9.5,0.015],[9.9,0.018],[10.1,0.036],[10.5,0.066],[10.7,0.081],[11,0.077],[11.2,0.1],[11.35,0.144],[11.6,0.158],[11.9,0.135],[12.1,0.193],[12.35,0.274],[12.45,0.281],[12.6,0.263],[12.7,0.26],[12.8,0.21],[13,0.155],[13.3,0.155],[13.6,0.166],[13.9,0.16],[14.1,0.153],[14.3,0.173],[14.6,0.152],[15,0.108]],
  [[2,0],[4.3,0.002],[4.6,0.009],[4.8,0.026],[5.1,0.048],[5.3,0.062],[5.55,0.068],[5.75,0.064],[5.9,0.072],[6.1,0.072],[6.3,0.056],[6.5,0.053],[6.9,0.039],[7.4,0.028],[7.8,0.023],[8.05,0.025],[8.3,0.018],[9,0.014],[9.2,0.017],[9.6,0.014],[10.3,0.017],[10.5,0.028],[10.7,0.062],[11,0.067],[11.2,0.097],[11.35,0.114],[11.8,0.128],[12.1,0.18],[12.4,0.228],[12.55,0.26],[12.7,0.25],[12.8,0.209],[12.95,0.215],[13.1,0.17],[13.5,0.126],[13.6,0.147],[13.9,0.151],[14.3,0.174],[14.6,0.164],[14.8,0.122],[15,0.12]]
];
var gaExp0 = [0, 0, 0, 0, 0, 0, 0, 0, 0, 0,
  0, 0, 0, 0, 0, 0, 0, 0, 0, 0.004,
  0.014, 0.024, 0.03, 0.035, 0.039, 0.042, 0.046, 0.051, 0.058, 0.065,
  0.071, 0.075, 0.073, 0.068, 0.062, 0.055, 0.047, 0.04, 0.034, 0.03,
  0.028, 0.027, 0.027, 0.028, 0.031, 0.034, 0.037, 0.04, 0.041, 0.042,
  0.042, 0.041, 0.039, 0.037, 0.034, 0.032, 0.03, 0.028, 0.026, 0.025,
  0.024, 0.023, 0.022, 0.022, 0.022, 0.023];
var gaExp1 = [0.18, 0.181, 0.18, 0.181, 0.181, 0.18, 0.182, 0.181, 0.182, 0.182,
  0.183, 0.183, 0.184, 0.184, 0.185, 0.186, 0.187, 0.188, 0.19, 0.196,
  0.203, 0.212, 0.221, 0.231, 0.241, 0.25, 0.258, 0.266, 0.272, 0.277,
  0.278, 0.274, 0.268, 0.261, 0.254, 0.247, 0.24, 0.235, 0.23, 0.227,
  0.224, 0.222, 0.224, 0.228, 0.234, 0.241, 0.25, 0.26, 0.27, 0.28,
  0.29, 0.3, 0.308, 0.314, 0.319, 0.319, 0.317, 0.312, 0.307, 0.302,
  0.297, 0.29, 0.282, 0.276, 0.27, 0.266];
var gaExp2 = [0.36, 0.36, 0.359, 0.361, 0.36, 0.358, 0.362, 0.36, 0.361, 0.359,
  0.362, 0.361, 0.363, 0.36, 0.362, 0.364, 0.366, 0.37, 0.374, 0.372,
  0.376, 0.386, 0.398, 0.41, 0.417, 0.424, 0.429, 0.433, 0.436, 0.44,
  0.442, 0.437, 0.432, 0.427, 0.42, 0.413, 0.41, 0.407, 0.404, 0.401,
  0.399, 0.4, 0.403, 0.406, 0.411, 0.416, 0.421, 0.428, 0.435, 0.445,
  0.453, 0.46, 0.472, 0.485, 0.497, 0.51, 0.516, 0.513, 0.512, 0.512,
  0.506, 0.5, 0.493, 0.484, 0.479, 0.475];
var gaExp3 = [0.54, 0.54, 0.537, 0.543, 0.536, 0.545, 0.539, 0.534, 0.541, 0.546,
  0.537, 0.543, 0.535, 0.546, 0.54, 0.543, 0.547, 0.543, 0.549, 0.554,
  0.558, 0.563, 0.568, 0.575, 0.587, 0.594, 0.598, 0.601, 0.61, 0.613,
  0.617, 0.611, 0.606, 0.61, 0.605, 0.598, 0.585, 0.578, 0.572, 0.569,
  0.568, 0.578, 0.576, 0.575, 0.577, 0.587, 0.592, 0.6, 0.604, 0.607,
  0.62, 0.63, 0.636, 0.637, 0.65, 0.668, 0.68, 0.698, 0.7, 0.692,
  0.69, 0.682, 0.676, 0.674, 0.684, 0.672];

// ---------- axis labels ----------
var panelTitles = ['-M', '-K', '-A'];
var panelEnds = ['M', 'K', 'A'];
var panelYMax = [1.70, 2.0, 0.726];
var gmYTicks = [0, 0.2, 0.4, 0.6, 0.8, 1.0, 1.2, 1.4];
var gkYTicks = [0, 0.2, 0.4, 0.6, 0.8, 1.0, 1.2, 1.4, 1.6];
var gaYTicks = [0, 0.05, 0.1, 0.15, 0.2, 0.25, 0.3, 0.35, 0.4, 0.45, 0.5];

var panels = [
  { offsets: gmOffsets, colors: gmColors, theory: gmTheory, yTicks: gmYTicks,
    exp: [[energy01, gmExp0], [energy01, gmExp1], [energy01, gmExp2], [energy01, gmExp3],
          [energy01, gmExp4], [energy01h, gmExp4h], [energy01, gmExp5], [energy01h, gmExp5h]] },
  { offsets: gkOffsets, colors: gkColors, theory: gkTheory, yTicks: gkYTicks,
    exp: [[energy01, gkExp0], [energy01, gkExp1], [energy01, gkExp2], [energy01, gkExp3],
          [energy01, gkExp4], [energy01h, gkExp4h], [energy01, gkExp5], [energy01h, gkExp5h]] },
  { offsets: gaOffsets, colors: gaColors, theory: gaTheory, yTicks: gaYTicks,
    exp: [[energy02, gaExp0], [energy02, gaExp1], [energy02, gaExp2], [energy02, gaExp3]] }
];

var gridLefts = [82, 582, 1082];
var FONT = 'Liberation Sans';
var SERIF = 'Liberation Serif';

var chartDom = document.getElementById('main');
var myChart = echarts.init(chartDom, null, { renderer: 'canvas' });

var grids = [], xAxes = [], yAxes = [], series = [], titles = [];

panels.forEach(function (p, gi) {
  var endValue = p.offsets[p.offsets.length - 1];
  grids.push({
    left: gridLefts[gi], top: 5, width: 333, height: 873,
    show: true, borderColor: '#000', borderWidth: 2, backgroundColor: 'transparent'
  });
  xAxes.push({
    type: 'value', gridIndex: gi, min: 2, max: 15, position: 'bottom',
    name: 'Energy (eV)', nameLocation: 'middle', nameGap: 60,
    nameTextStyle: { fontFamily: FONT, fontSize: 27, color: '#000' },
    axisLine: { show: true, lineStyle: { color: '#000', width: 2 } },
    axisTick: { show: true, inside: true, length: 12, customValues: xTicks,
      lineStyle: { color: '#000', width: 1.5 } },
    axisLabel: { show: true, customValues: xTicks, margin: 16, padding: [0, 0, 0, 9],
      fontFamily: FONT, fontSize: 26, color: '#000', hideOverlap: false },
    splitLine: { show: false }
  });
  xAxes.push({
    type: 'value', gridIndex: gi, min: 2, max: 15, position: 'top',
    axisLine: { show: true, lineStyle: { color: '#000', width: 2 } },
    axisTick: { show: true, inside: true, length: 12, customValues: xTicks,
      lineStyle: { color: '#000', width: 1.5 } },
    axisLabel: { show: false },
    splitLine: { show: false }
  });
  // main value axis with the numeric tick labels
  yAxes.push({
    type: 'value', gridIndex: gi, min: 0, max: panelYMax[gi], position: 'left',
    axisLine: { show: true, lineStyle: { color: '#000', width: 2 } },
    axisTick: { show: true, inside: true, length: 12, customValues: p.yTicks.slice(1),
      lineStyle: { color: '#000', width: 1.5 } },
    axisLabel: {
      show: true, margin: 18, fontFamily: FONT, fontSize: 26, color: '#000',
      hideOverlap: false, customValues: p.yTicks,
      formatter: function (v) {
        if (v === 0) return '{g|Γ}';
        return v.toFixed(2);
      },
      rich: { g: { fontFamily: SERIF, fontSize: 28, color: '#000' } }
    },
    splitLine: { show: false }
  });
  // companion axis on the same scale: only the zone-boundary letter
  yAxes.push({
    type: 'value', gridIndex: gi, min: 0, max: panelYMax[gi], position: 'left',
    axisLine: { show: false }, axisTick: { show: false },
    axisLabel: {
      show: true, margin: 18, fontFamily: FONT, fontSize: 26, color: '#000',
      hideOverlap: false, customValues: [endValue],
      formatter: function () { return panelEnds[gi]; }
    },
    splitLine: { show: false }
  });
  titles.push({
    text: '{g|Γ}{s|' + panelTitles[gi] + '}',
    left: gridLefts[gi] + 26, top: 45,
    textStyle: {
      fontWeight: 'normal',
      rich: {
        g: { fontFamily: SERIF, fontSize: 42, fontWeight: 'normal', color: '#000' },
        s: { fontFamily: FONT, fontSize: 40, fontWeight: 'normal', color: '#000' }
      }
    }
  });

  p.exp.forEach(function (e) {
    var xs = e[0], ys = e[1];
    series.push({
      type: 'scatter', xAxisIndex: gi * 2, yAxisIndex: gi * 2,
      data: ys.map(function (y, i) { return [xs[i], y]; }),
      symbol: 'circle', symbolSize: 6,
      itemStyle: { color: 'rgba(255,255,255,0)', borderColor: '#000', borderWidth: 1.2 },
      z: 2, silent: true
    });
  });
  p.theory.forEach(function (shape, k) {
    var off = p.offsets[k];
    series.push({
      type: 'line', xAxisIndex: gi * 2, yAxisIndex: gi * 2,
      data: shape.map(function (pt) { return [pt[0], pt[1] + off]; }),
      showSymbol: false, symbol: 'none',
      lineStyle: { color: p.colors[k], width: 2.5 },
      itemStyle: { color: p.colors[k] },
      z: 3, silent: true
    });
  });
});

var option = {
  backgroundColor: '#fff',
  animation: false,
  textStyle: { fontFamily: FONT },
  title: titles,
  grid: grids,
  xAxis: xAxes,
  yAxis: yAxes,
  series: series
};

if (chartDom && myChart) {
  myChart.setOption(option);
} else {
  console.error('Failed to initialize the chart');
}
</script>
</body>
</html>
